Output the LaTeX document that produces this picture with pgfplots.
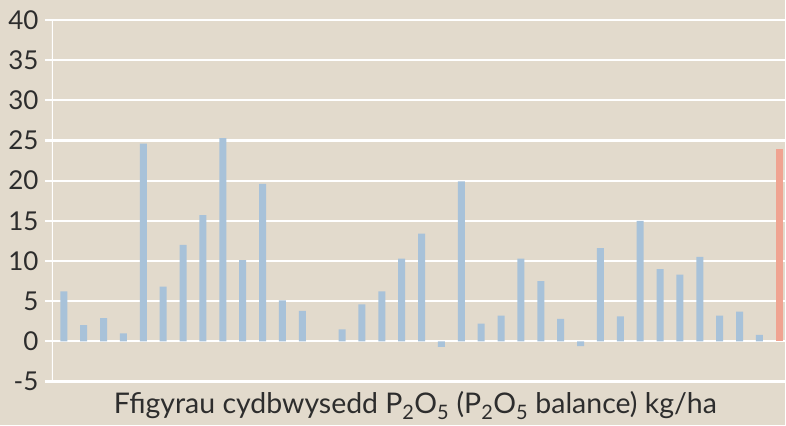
\documentclass[border=0pt]{standalone}
\usepackage{fontspec}
\setmainfont{Lato}
\usepackage{pgfplots}
\pgfplotsset{compat=1.18}
\definecolor{bg}{RGB}{226,218,204}
\definecolor{barblue}{RGB}{168,194,217}
\definecolor{barred}{RGB}{240,163,145}
\definecolor{txt}{RGB}{45,45,45}
\begin{document}
\begin{tikzpicture}[x=1pt,y=1pt]
\fill[bg] (0,0) rectangle (786,426);
\begin{axis}[at={(52pt,44pt)}, anchor=south west, scale only axis,
  width=734pt, height=362pt,
  xmin=-0.6, xmax=36.28, ymin=-5, ymax=40,
  axis line style={draw=none},
  xtick=\empty,
  ytick={-5,0,...,40}, ytick pos=left,
  ymajorgrids, grid style={white, line width=2.2pt},
  major tick length=7pt, tick align=outside,
  ytick style={white, line width=2.2pt},
  yticklabel style={font=\fontsize{26}{26}\selectfont, text=txt, anchor=east, xshift=-3pt},
  /pgf/number format/assume math mode=true,
]
\addplot[ybar, bar width=7pt, fill=barblue, draw=none] coordinates {
(0,6.2) (1,2.0) (2,2.9) (3,1.0) (4,24.6) (5,6.8) (6,12.0) (7,15.7) (8,25.3) (9,10.1)
(10,19.6) (11,5.1) (12,3.8) (14,1.5) (15,4.6) (16,6.2) (17,10.3) (18,13.4) (19,-0.7)
(20,19.9) (21,2.2) (22,3.2) (23,10.3) (24,7.5) (25,2.8) (26,-0.6) (27,11.6) (28,3.1)
(29,15.0) (30,9.0) (31,8.3) (32,10.5) (33,3.2) (34,3.7) (35,0.8)
};
\addplot[ybar, bar width=7pt, fill=barred, draw=none] coordinates {(36,23.9)};
\draw[white, line width=2pt] (axis description cs:0,0) -- (axis description cs:0,1);
\end{axis}
\node[anchor=base, font=\fontsize{28.5}{28.5}\selectfont, text=txt] at (416,12)
  {Ffigyrau cydbwysedd P\textsubscript{2}O\textsubscript{5} (P\textsubscript{2}O\textsubscript{5} balance) kg/ha};
\end{tikzpicture}
\end{document}
